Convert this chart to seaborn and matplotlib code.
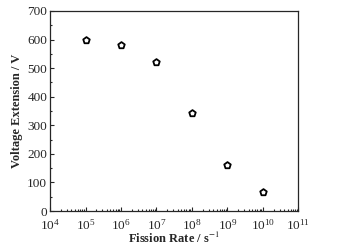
import matplotlib
matplotlib.use('Agg')
import matplotlib.pyplot as plt
import matplotlib.ticker as mticker
import pandas as pd
import seaborn as sns

# Valores
fission_rate = [1e5, 1e6, 1e7, 1e8, 1e9, 1e10]
voltage_ext = [600, 582, 522, 344, 162, 66]


def create_plot():
    data = pd.DataFrame({'rate': fission_rate, 'voltage': voltage_ext})
    sns.set_style('ticks')
    plt.rcParams['font.family'] = ['Liberation Serif', 'DejaVu Serif']
    plt.rcParams['mathtext.fontset'] = 'stix'

    fig = plt.figure(figsize=(3.38, 2.48), dpi=100)
    ax = fig.add_axes([0.148, 0.149, 0.735, 0.807])
    sns.scatterplot(data=data, x='rate', y='voltage', ax=ax, marker='p', s=24,
                    facecolor='white', edgecolor='black', linewidth=1.3, zorder=3)
    ax.set_xscale('log')
    ax.set_xlim(1e4, 1e11)
    ax.set_ylim(0, 700)
    ax.xaxis.set_major_locator(mticker.LogLocator(base=10, numticks=10))
    ax.xaxis.set_minor_locator(mticker.LogLocator(base=10, subs=range(2, 10), numticks=20))
    ax.xaxis.set_minor_formatter(mticker.NullFormatter())
    ax.yaxis.set_major_locator(mticker.MultipleLocator(100))
    ax.yaxis.set_minor_locator(mticker.MultipleLocator(50))
    ax.tick_params(which='both', direction='in', labelsize=9.5, width=0.8)
    ax.tick_params(axis='x', which='major', pad=5)
    ax.tick_params(axis='y', which='major', pad=2)
    ax.tick_params(which='major', length=3)
    ax.tick_params(which='minor', length=1.5)
    for s in ax.spines.values():
        s.set_linewidth(0.9)
    ax.set_xlabel('Fission Rate / s$^{-1}$', fontsize=9, fontweight='bold')
    ax.xaxis.set_label_coords(0.5, -0.1, transform=ax.transAxes)
    ax.xaxis.label.set_va('top')
    ax.set_ylabel('Voltage Extension / V', fontsize=9, fontweight='bold', labelpad=3)
    fig.savefig('out.png', dpi=100)


if __name__ == '__main__':
    create_plot()
